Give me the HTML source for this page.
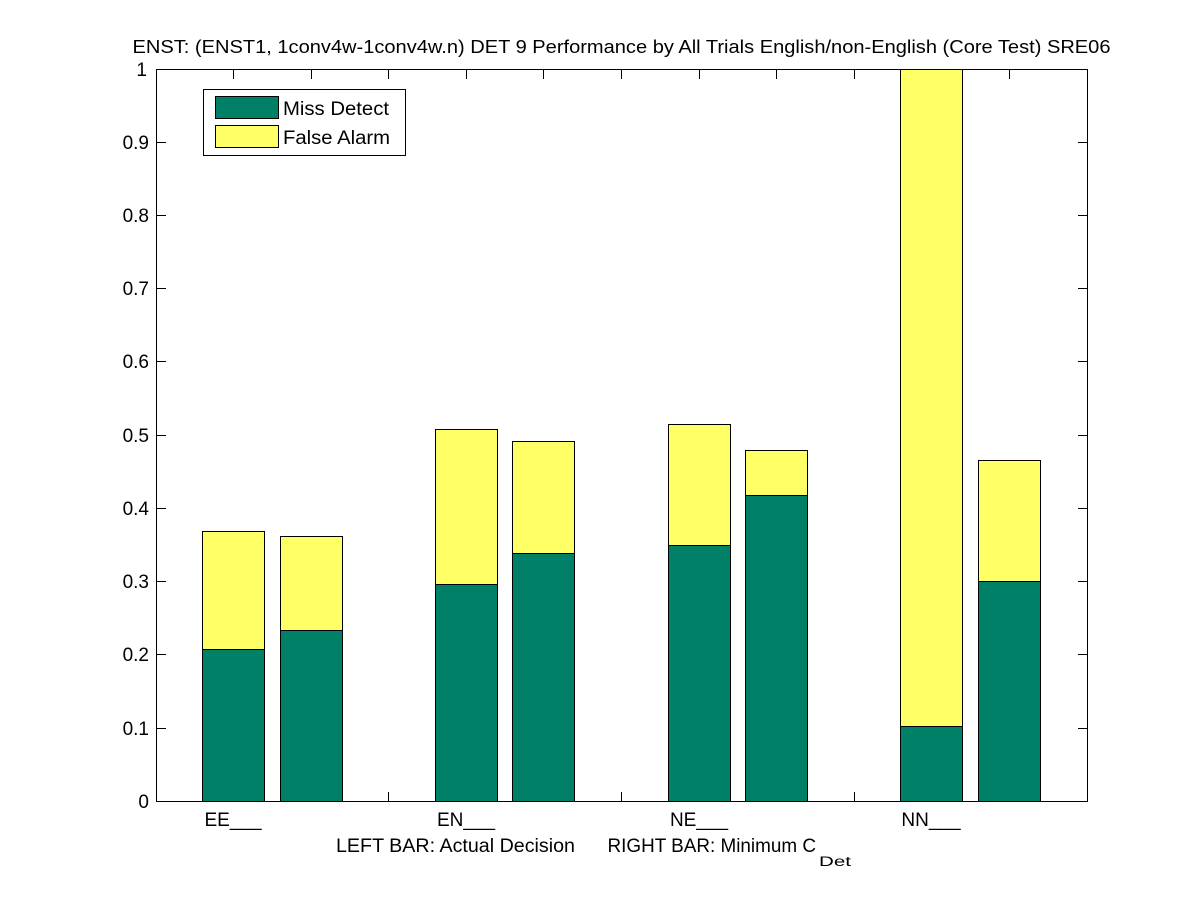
<!DOCTYPE html>
<html>
<head>
<meta charset="utf-8">
<style>
html,body{margin:0;padding:0;background:#fff;}
svg{display:block;}
text{font-family:"Liberation Sans",Arial,Helvetica,sans-serif;fill:#000;}
</style>
</head>
<body>
<svg width="1201" height="900" viewBox="0 0 1201 900" xmlns="http://www.w3.org/2000/svg">
<rect x="0" y="0" width="1201" height="900" fill="#fff"/>

<!-- ticks -->
<g stroke="#000" stroke-width="1" shape-rendering="crispEdges">
  <!-- y ticks left & right -->
  <line x1="156" y1="801.5" x2="166" y2="801.5"/><line x1="1078" y1="801.5" x2="1088" y2="801.5"/>
  <line x1="156" y1="728.5" x2="166" y2="728.5"/><line x1="1078" y1="728.5" x2="1088" y2="728.5"/>
  <line x1="156" y1="654.5" x2="166" y2="654.5"/><line x1="1078" y1="654.5" x2="1088" y2="654.5"/>
  <line x1="156" y1="581.5" x2="166" y2="581.5"/><line x1="1078" y1="581.5" x2="1088" y2="581.5"/>
  <line x1="156" y1="508.5" x2="166" y2="508.5"/><line x1="1078" y1="508.5" x2="1088" y2="508.5"/>
  <line x1="156" y1="435.5" x2="166" y2="435.5"/><line x1="1078" y1="435.5" x2="1088" y2="435.5"/>
  <line x1="156" y1="361.5" x2="166" y2="361.5"/><line x1="1078" y1="361.5" x2="1088" y2="361.5"/>
  <line x1="156" y1="288.5" x2="166" y2="288.5"/><line x1="1078" y1="288.5" x2="1088" y2="288.5"/>
  <line x1="156" y1="215.5" x2="166" y2="215.5"/><line x1="1078" y1="215.5" x2="1088" y2="215.5"/>
  <line x1="156" y1="142.5" x2="166" y2="142.5"/><line x1="1078" y1="142.5" x2="1088" y2="142.5"/>
  <!-- x ticks top & bottom -->
  <line x1="233.5" y1="69" x2="233.5" y2="79"/><line x1="233.5" y1="792" x2="233.5" y2="802"/>
  <line x1="311.5" y1="69" x2="311.5" y2="79"/><line x1="311.5" y1="792" x2="311.5" y2="802"/>
  <line x1="388.5" y1="69" x2="388.5" y2="79"/><line x1="388.5" y1="792" x2="388.5" y2="802"/>
  <line x1="466.5" y1="69" x2="466.5" y2="79"/><line x1="466.5" y1="792" x2="466.5" y2="802"/>
  <line x1="543.5" y1="69" x2="543.5" y2="79"/><line x1="543.5" y1="792" x2="543.5" y2="802"/>
  <line x1="621.5" y1="69" x2="621.5" y2="79"/><line x1="621.5" y1="792" x2="621.5" y2="802"/>
  <line x1="699.5" y1="69" x2="699.5" y2="79"/><line x1="699.5" y1="792" x2="699.5" y2="802"/>
  <line x1="776.5" y1="69" x2="776.5" y2="79"/><line x1="776.5" y1="792" x2="776.5" y2="802"/>
  <line x1="854.5" y1="69" x2="854.5" y2="79"/><line x1="854.5" y1="792" x2="854.5" y2="802"/>
  <line x1="931.5" y1="69" x2="931.5" y2="79"/><line x1="931.5" y1="792" x2="931.5" y2="802"/>
  <line x1="1009.5" y1="69" x2="1009.5" y2="79"/><line x1="1009.5" y1="792" x2="1009.5" y2="802"/>
</g>

<!-- bars -->
<g stroke="#000" stroke-width="1" shape-rendering="crispEdges">
  <!-- EE -->
  <rect x="202.5" y="649.5" width="62" height="152" fill="#008066"/>
  <rect x="202.5" y="531.5" width="62" height="118" fill="#FFFF66"/>
  <rect x="280.5" y="630.5" width="62" height="171" fill="#008066"/>
  <rect x="280.5" y="536.5" width="62" height="94" fill="#FFFF66"/>
  <!-- EN -->
  <rect x="435.5" y="584.5" width="62" height="217" fill="#008066"/>
  <rect x="435.5" y="429.5" width="62" height="155" fill="#FFFF66"/>
  <rect x="512.5" y="553.5" width="62" height="248" fill="#008066"/>
  <rect x="512.5" y="441.5" width="62" height="112" fill="#FFFF66"/>
  <!-- NE -->
  <rect x="668.5" y="545.5" width="62" height="256" fill="#008066"/>
  <rect x="668.5" y="424.5" width="62" height="121" fill="#FFFF66"/>
  <rect x="745.5" y="495.5" width="62" height="306" fill="#008066"/>
  <rect x="745.5" y="450.5" width="62" height="45" fill="#FFFF66"/>
  <!-- NN -->
  <rect x="900.5" y="726.5" width="62" height="75" fill="#008066"/>
  <rect x="900.5" y="69.5" width="62" height="657" fill="#FFFF66"/>
  <rect x="978.5" y="581.5" width="62" height="220" fill="#008066"/>
  <rect x="978.5" y="460.5" width="62" height="121" fill="#FFFF66"/>
</g>

<!-- axes box -->
<rect x="156.5" y="69.5" width="931" height="732" fill="none" stroke="#000" stroke-width="1" shape-rendering="crispEdges"/>

<!-- y tick labels -->
<g font-size="19" text-anchor="end">
  <text x="149" y="808">0</text>
  <text x="149" y="735">0.1</text>
  <text x="149" y="661">0.2</text>
  <text x="149" y="588">0.3</text>
  <text x="149" y="515">0.4</text>
  <text x="149" y="442">0.5</text>
  <text x="149" y="368">0.6</text>
  <text x="149" y="295">0.7</text>
  <text x="149" y="222">0.8</text>
  <text x="149" y="149">0.9</text>
  <text x="147" y="76">1</text>
</g>

<!-- x tick labels -->
<g font-size="19" text-anchor="middle">
  <text x="233" y="826">EE___</text>
  <text x="466" y="826">EN___</text>
  <text x="699" y="826">NE___</text>
  <text x="931" y="826">NN___</text>
</g>

<!-- x label -->
<text x="336" y="852" font-size="19" textLength="239" lengthAdjust="spacingAndGlyphs">LEFT BAR: Actual Decision</text>
<text x="607.5" y="852" font-size="19" textLength="208.5" lengthAdjust="spacingAndGlyphs">RIGHT BAR: Minimum C</text>
<text x="819" y="866" font-size="13.5" textLength="32" lengthAdjust="spacingAndGlyphs">Det</text>

<!-- title -->
<text x="132.5" y="53" font-size="18.5" textLength="978" lengthAdjust="spacingAndGlyphs">ENST: (ENST1, 1conv4w-1conv4w.n) DET 9 Performance by All Trials English/non-English (Core Test) SRE06</text>

<!-- legend -->
<rect x="203.5" y="89.5" width="202" height="66" fill="#fff" stroke="#000" stroke-width="1" shape-rendering="crispEdges"/>
<rect x="215.5" y="96.5" width="63" height="22" fill="#008066" stroke="#000" stroke-width="1" shape-rendering="crispEdges"/>
<rect x="215.5" y="125.5" width="63" height="22" fill="#FFFF66" stroke="#000" stroke-width="1" shape-rendering="crispEdges"/>
<text x="283" y="115" font-size="19" textLength="106" lengthAdjust="spacingAndGlyphs">Miss Detect</text>
<text x="283" y="144" font-size="19" textLength="107" lengthAdjust="spacingAndGlyphs">False Alarm</text>
</svg>
</body>
</html>
